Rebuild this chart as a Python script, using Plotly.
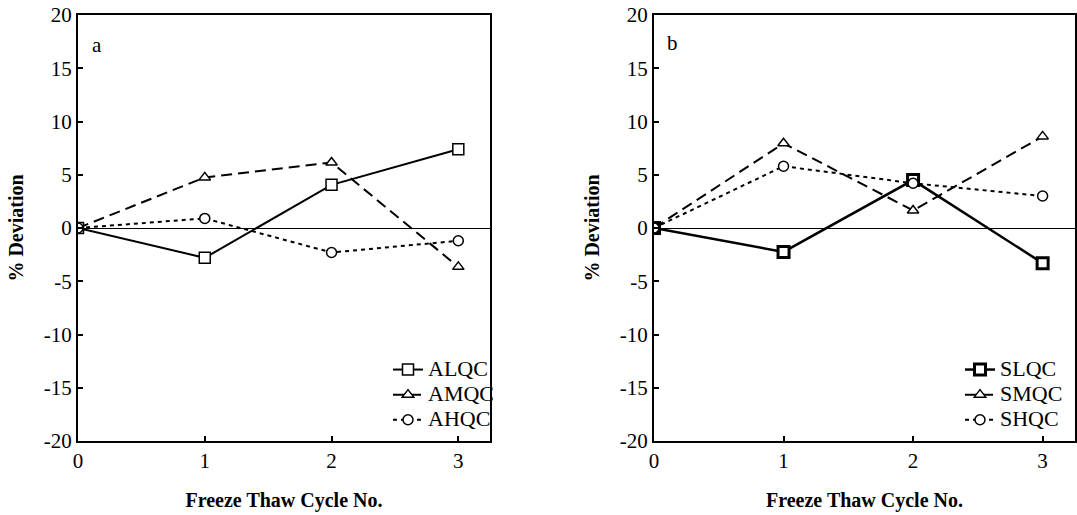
import plotly.graph_objects as go

cycles = [0, 1, 2, 3]

# Panel a
ALQC = [0, -2.8, 4.05, 7.4]
AMQC = [0, 4.75, 6.15, -3.65]
AHQC = [0, 0.9, -2.3, -1.2]

# Panel b
SLQC = [0, -2.25, 4.5, -3.3]
SMQC = [0, 7.95, 1.65, 8.6]
SHQC = [0, 5.8, 4.2, 3.0]

y_ticks = [-20, -15, -10, -5, 0, 5, 10, 15, 20]
y_ticktext = ["-20", "-15", "-10", "-5", "0", "5", "10", "15", "20"]
x_ticks = [0, 1, 2, 3]

FONT = "Liberation Serif, Times New Roman, serif"
W, H = 1077, 515

fig = go.Figure()

def add(name, x, y, symbol, dash, xa, ya, legend, lw=2, mlw=1.5, size=10):
    fig.add_trace(go.Scatter(
        x=x, y=y, mode="lines+markers",
        name="<span style='font-size:22px'>%s</span>" % name,
        line=dict(color="black", width=lw, dash=dash),
        marker=dict(symbol=symbol, size=size, color="white",
                    line=dict(color="black", width=mlw)),
        xaxis=xa, yaxis=ya, legend=legend,
    ))

add("ALQC", cycles, ALQC, "square", "solid", "x", "y", "legend", size=11)
add("AMQC", cycles, AMQC, "triangle-up", "11px,6px", "x", "y", "legend", size=10)
add("AHQC", cycles, AHQC, "circle", "4px,4px", "x", "y", "legend", size=10)
add("SLQC", cycles, SLQC, "square", "solid", "x2", "y2", "legend2", lw=2.5, mlw=3, size=11)
add("SMQC", cycles, SMQC, "triangle-up", "11px,6px", "x2", "y2", "legend2", size=10)
add("SHQC", cycles, SHQC, "circle", "4px,4px", "x2", "y2", "legend2", size=10)

def px_x(p):
    return p / W

def px_y(p):
    return 1 - p / H

axis_common = dict(
    showline=True, linecolor="black", linewidth=2, mirror=True,
    ticks="inside", ticklen=5, tickwidth=2, tickcolor="black",
    showgrid=False, automargin=False,
    tickfont=dict(family=FONT, size=21, color="black"),
)

xcommon = dict(axis_common, range=[0, 3.25], tickvals=x_ticks, zeroline=False,
               title=dict(text="<b>Freeze Thaw Cycle No.</b>",
                          font=dict(family=FONT, size=20, color="black"), standoff=21))
ycommon = dict(axis_common, range=[-20, 20], tickvals=y_ticks, ticktext=y_ticktext,
               zeroline=True, zerolinecolor="black", zerolinewidth=1,
               title=dict(text="<b>% Deviation</b>",
                          font=dict(family=FONT, size=20, color="black"), standoff=15))

legend_common = dict(xanchor="left", yanchor="top", bgcolor="rgba(0,0,0,0)",
                     font=dict(family=FONT, size=17, color="black"),
                     tracegroupgap=0, itemwidth=30)

fig.update_layout(
    width=W, height=H,
    margin=dict(l=0, r=0, t=0, b=0),
    paper_bgcolor="white", plot_bgcolor="white",
    font=dict(family=FONT, size=20, color="black"),
    xaxis=dict(xcommon, domain=[px_x(78), px_x(490)], anchor="y"),
    yaxis=dict(ycommon, domain=[px_y(441), px_y(15)], anchor="x"),
    xaxis2=dict(xcommon, domain=[px_x(654), px_x(1075)], anchor="y2"),
    yaxis2=dict(ycommon, domain=[px_y(441), px_y(15)], anchor="x2"),
    legend=dict(legend_common, x=px_x(388), y=px_y(352)),
    legend2=dict(legend_common, x=px_x(960), y=px_y(352)),
    showlegend=True,
    annotations=[
        dict(text="a", x=0.15, y=17.2, xref="x", yref="y", showarrow=False,
             font=dict(family=FONT, size=21, color="black")),
        dict(text="b", x=0.14, y=17.4, xref="x2", yref="y2", showarrow=False,
             font=dict(family=FONT, size=21, color="black")),
    ],
)

fig.write_html("out.html", config={"displayModeBar": False},
               post_script="document.body.style.margin='0';document.body.style.overflow='hidden';")
